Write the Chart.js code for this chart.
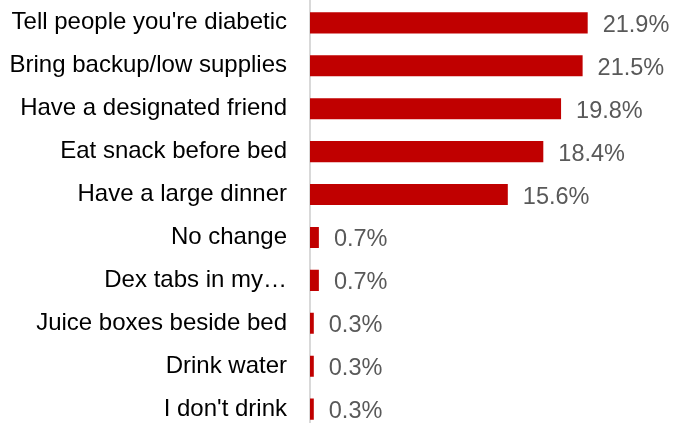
<!DOCTYPE html>
<html>
<head>
<meta charset="utf-8">
<script src="https://cdn.jsdelivr.net/npm/chart.js@4/dist/chart.umd.min.js"></script>
<style>
  html, body { margin: 0; padding: 0; background: #fff; overflow: hidden; }
  #myChart { display: block; margin-top: -13px; }
</style>
</head>
<body>
<canvas id="myChart" width="673" height="458"></canvas>
<script>
var labels = ["Tell people you're diabetic", "Bring backup/low supplies", "Have a designated friend",
  "Eat snack before bed", "Have a large dinner", "No change", "Dex tabs in my\u2026",
  "Juice boxes beside bed", "Drink water", "I don't drink"];
var values = [21.9, 21.5, 19.8, 18.4, 15.6, 0.7, 0.7, 0.3, 0.3, 0.3];

// value labels to the right of each bar
var valueLabels = {
  id: 'valueLabels',
  afterDatasetsDraw: function (chart) {
    var ctx = chart.ctx;
    var meta = chart.getDatasetMeta(0);
    ctx.save();
    ctx.font = '23.5px "Liberation Sans", Arial, sans-serif';
    ctx.fillStyle = '#595959';
    ctx.textAlign = 'left';
    ctx.textBaseline = 'middle';
    meta.data.forEach(function (bar, i) {
      ctx.fillText(values[i].toFixed(1) + '%', bar.x + 15, bar.y + 2.5);
    });
    ctx.restore();
  }
};

data = {
  labels: labels,
  datasets: [{
    data: values,
    backgroundColor: '#C00000',
    borderWidth: 0,
    barPercentage: 0.49,
    categoryPercentage: 1
  }]
};
let config = {
  type: 'bar',
  data,
  options: {
    indexAxis: 'y',
    responsive: false,
    animation: false,
    layout: { padding: { top: 0, bottom: 0, right: 46, left: 0 } },
    plugins: { legend: { display: false }, tooltip: { enabled: false } },
    scales: {
      x: { display: false, min: 0, max: 25 },
      y: {
        grid: { display: false, tickLength: 23 },
        border: { display: true, color: '#D9D9D9', width: 2 },
        ticks: {
          color: '#000',
          padding: 0,
          font: { family: '"Liberation Sans", Arial, sans-serif', size: 24 }
        },
        afterFit: function (scale) { scale.width = 310; }
      }
    }
  },
  plugins: [valueLabels]
};
var myChart = new Chart(document.getElementById('myChart'), config);
</script>
</body>
</html>
